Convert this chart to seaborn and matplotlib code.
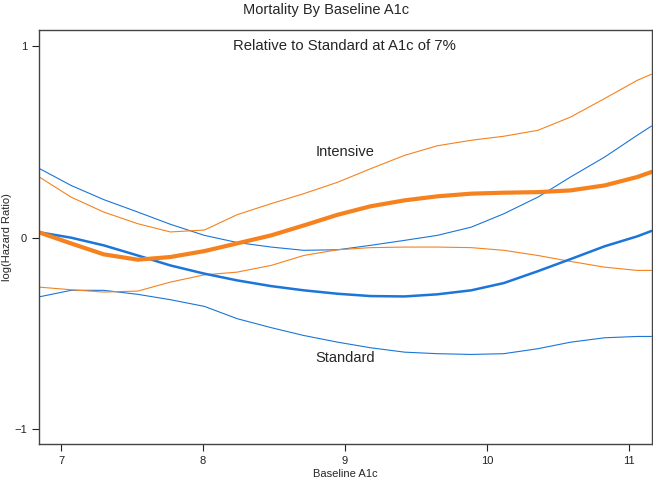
import numpy as np
import pandas as pd
import seaborn as sns
import matplotlib
matplotlib.use("Agg")
import matplotlib.pyplot as plt

# values
a1c = [6.84, 7.07, 7.30, 7.54, 7.77, 8.01, 8.24, 8.48, 8.71, 8.95,
       9.18, 9.42, 9.65, 9.89, 10.12, 10.36, 10.59, 10.83, 11.06, 11.16]

intensive = [0.029, -0.030, -0.087, -0.115, -0.101, -0.070, -0.030, 0.012, 0.064, 0.120,
             0.164, 0.195, 0.216, 0.230, 0.235, 0.238, 0.247, 0.273, 0.317, 0.343]
intensive_hi = [0.320, 0.212, 0.134, 0.073, 0.030, 0.040, 0.120, 0.178, 0.230, 0.290,
                0.360, 0.430, 0.480, 0.509, 0.530, 0.561, 0.630, 0.727, 0.822, 0.854]
intensive_lo = [-0.258, -0.272, -0.284, -0.279, -0.232, -0.194, -0.180, -0.145, -0.093, -0.063,
                -0.052, -0.049, -0.049, -0.052, -0.066, -0.093, -0.124, -0.154, -0.171, -0.171]

standard = [0.029, 0.000, -0.040, -0.093, -0.145, -0.188, -0.223, -0.253, -0.275, -0.293,
            -0.305, -0.307, -0.296, -0.275, -0.237, -0.175, -0.112, -0.045, 0.007, 0.035]
standard_hi = [0.364, 0.273, 0.199, 0.134, 0.070, 0.012, -0.025, -0.049, -0.066, -0.063,
               -0.040, -0.014, 0.012, 0.055, 0.125, 0.212, 0.317, 0.421, 0.535, 0.583]
standard_lo = [-0.310, -0.275, -0.275, -0.296, -0.324, -0.359, -0.423, -0.470, -0.511, -0.546,
               -0.575, -0.598, -0.606, -0.610, -0.606, -0.580, -0.546, -0.523, -0.516, -0.516]

sns.set_style("ticks")
plt.rcParams['font.family'] = ['Liberation Sans', 'DejaVu Sans']

orange = '#F5821F'
blue = '#1C75D8'

fig = plt.figure(figsize=(6.53, 4.84), dpi=100)
ax = fig.add_axes([0.0597, 0.0826, 0.9383, 0.8554])

sns.lineplot(x=a1c, y=standard_hi, ax=ax, color=blue, linewidth=0.8)
sns.lineplot(x=a1c, y=standard_lo, ax=ax, color=blue, linewidth=0.8)
sns.lineplot(x=a1c, y=intensive_hi, ax=ax, color=orange, linewidth=0.8)
sns.lineplot(x=a1c, y=intensive_lo, ax=ax, color=orange, linewidth=0.8)
sns.lineplot(x=a1c, y=standard, ax=ax, color=blue, linewidth=1.8)
sns.lineplot(x=a1c, y=intensive, ax=ax, color=orange, linewidth=3.0)

ax.set_xlim(6.844, 11.162)
ax.set_ylim(-1.078, 1.085)
ax.set_xticks([7, 8, 9, 10, 11])
ax.set_yticks([-1, 0, 1])
ax.tick_params(direction='out', length=5, width=0.8, labelsize=8, colors='#222222')
for s in ax.spines.values():
    s.set_color('#444444')
    s.set_linewidth(1.0)

ax.text(9.0, 1.0, 'Relative to Standard at A1c of 7%', ha='center', va='center', fontsize=10.7)
ax.text(9.0, 0.446, 'Intensive', ha='center', va='center', fontsize=10.5)
ax.text(9.0, -0.626, 'Standard', ha='center', va='center', fontsize=10.5)

fig.text(0.5, 1 - 10 / 484, 'Mortality By Baseline A1c', ha='center', va='center', fontsize=10.5)
ax.set_xlabel('Baseline A1c', fontsize=8, labelpad=2)
ax.set_ylabel('log(Hazard Ratio)', fontsize=8)
ax.yaxis.set_label_coords(-0.044, 0.5)

fig.savefig('out.png', dpi=100)
